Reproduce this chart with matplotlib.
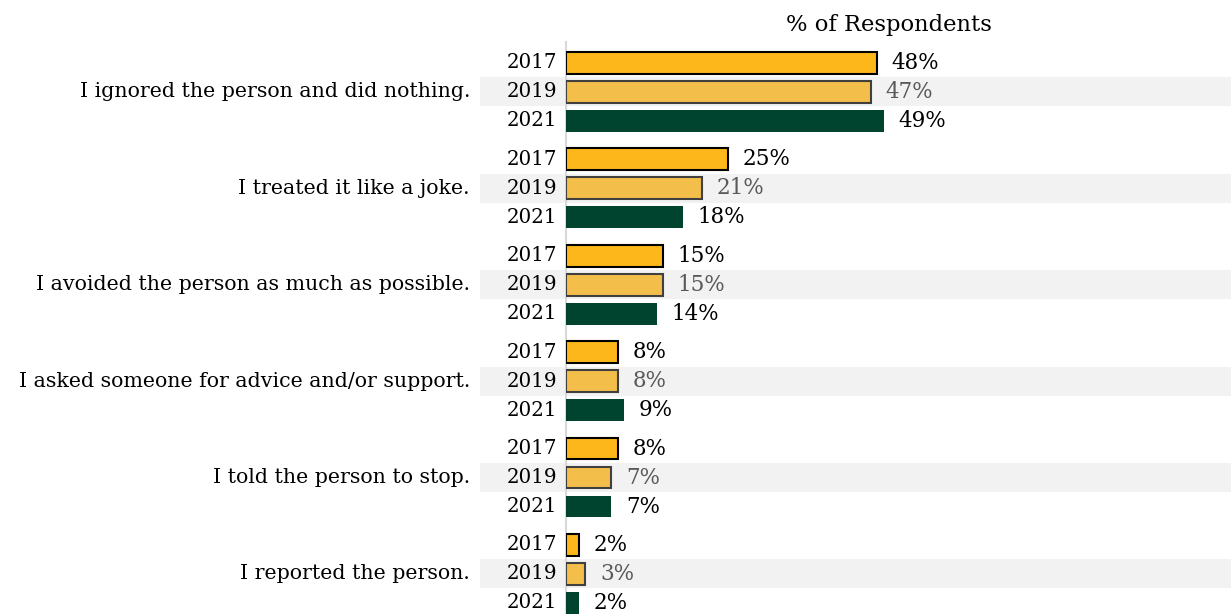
import numpy as np
import matplotlib.pyplot as plt
from matplotlib.patches import Rectangle
from matplotlib.transforms import blended_transform_factory

plt.rcParams['font.family'] = ['DejaVu Serif']

# Data
categories = ['I ignored the person and did nothing.',
              'I treated it like a joke.',
              'I avoided the person as much as possible.',
              'I asked someone for advice and/or support.',
              'I told the person to stop.',
              'I reported the person.']
years = ['2017', '2019', '2021']
v2017 = [48, 25, 15, 8, 8, 2]
v2019 = [47, 21, 15, 8, 7, 3]
v2021 = [49, 18, 14, 9, 7, 2]

# Style per year
warna = ['#FDB71A', '#F3BE4A', '#00432F']
tepi = ['#000000', '#404040', 'none']
warna_label = ['#000000', '#595959', '#000000']

W, H = 1231, 614
fig = plt.figure(figsize=(W/100, H/100), dpi=100)
ax = fig.add_axes([566/W, 0, 648/W, (H-42)/H])

G = 3.324  # jarak antar grup (satuan baris)

for k, (vals, th) in enumerate(zip([v2017, v2019, v2021], years)):
    y = np.arange(len(categories))*G + k
    ax.barh(y, vals, height=0.75, color=warna[k], edgecolor=tepi[k],
            linewidth=1.5 if k < 2 else 0, zorder=3)
    for yi, v in zip(y, vals):
        ax.annotate(f'{v}%', (v, yi), xytext=(10.5, 0), textcoords='offset points',
                    ha='left', va='center', fontsize=15.5, color=warna_label[k])
        ax.annotate(th, (0, yi), xytext=(-6.5, 0), textcoords='offset points',
                    ha='right', va='center', fontsize=14.3, color='black')

# Pita abu-abu di baris 2019 + label kategori
trans = blended_transform_factory(fig.transFigure, ax.transData)
for g in range(len(categories)):
    yc = g*G + 1
    ax.add_patch(Rectangle((480/W, yc-0.5), 1 - 480/W, 1.0, transform=trans,
                           facecolor='#F2F2F2', edgecolor='none', zorder=0, clip_on=False))
    fig.text(470/W, yc, categories[g], transform=trans, ha='right', va='center',
             fontsize=14.8)

y_last = (len(categories)-1)*G + 2
ax.set_xlim(0, 100)
ax.set_ylim(y_last + 0.38, -0.72)
ax.set_xticks([])
ax.set_yticks([])
for s in ['top', 'right', 'bottom']:
    ax.spines[s].set_visible(False)
ax.spines['left'].set_color('#D9D9D9')
ax.spines['left'].set_linewidth(1.5)
ax.patch.set_alpha(0)

fig.text(889/W, 1 - 25/H, '% of Respondents', ha='center', va='center', fontsize=16.3)

plt.savefig('out.png', dpi=100)
